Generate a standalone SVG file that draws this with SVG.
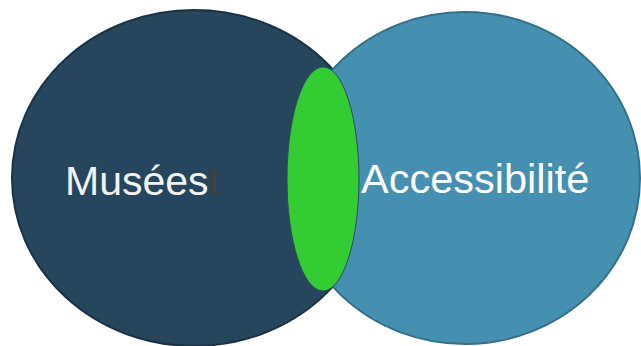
<svg xmlns="http://www.w3.org/2000/svg" width="641" height="346" viewBox="0 0 641 346">
  <style>
    .lbl { font-family: "Liberation Sans", Arial, sans-serif; font-size: 41px; }
  </style>
  <rect width="641" height="346" fill="#ffffff"/>
  <g id="musees">
    <ellipse cx="194" cy="178" rx="182" ry="168" fill="#26465D" stroke="#1B3244" stroke-width="2"/>
  </g>
  <g id="accessibilite">
    <ellipse cx="465" cy="178" rx="175" ry="166" fill="#4590B0" stroke="#346F8B" stroke-width="2"/>
  </g>
  <g id="intersection">
    <ellipse cx="323" cy="179" rx="36" ry="112" fill="#33CC33" stroke="#2B4D5E" stroke-width="1"/>
  </g>
  <g id="connectors"></g>
  <g id="labels">
    <text class="lbl" x="65" y="195" fill="#F2F2F2">Musées<tspan fill="#404040">t</tspan></text>
    <text class="lbl" x="361" y="193" fill="#FFFFFF" style="font-size:41.5px">Accessibilité</text>
  </g>
</svg>
